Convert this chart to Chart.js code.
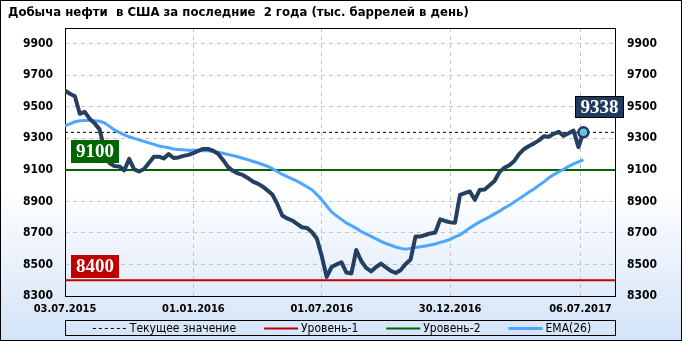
<!DOCTYPE html>
<html><head><meta charset="utf-8">
<script src="https://cdn.jsdelivr.net/npm/chart.js@4/dist/chart.umd.min.js"></script>
<style>html,body{margin:0;padding:0;background:#fff;}canvas{display:block}</style>
</head><body>
<canvas id="c" width="682" height="341"></canvas>
<script>
const chartTitle = 'Добыча нефти  в США за последние  2 года (тыс. баррелей в день)';
const xTickPos = [0, 26, 52, 78, 104.4];
const xTickLabels = ['03.07.2015', '01.01.2016', '01.07.2016', '30.12.2016', '06.07.2017'];
const xMax = 111.4;
const yTicks = [8300, 8500, 8700, 8900, 9100, 9300, 9500, 9700, 9900];
const production = [
  9603, 9583, 9567, 9456, 9468, 9424, 9395, 9357, 9227, 9144,
  9125, 9122, 9097, 9170, 9103, 9090, 9106, 9144, 9183, 9184,
  9173, 9200, 9175, 9179, 9189, 9195, 9206, 9221, 9233, 9233,
  9221, 9202, 9163, 9119, 9094, 9078, 9068, 9049, 9027, 9013,
  8995, 8970, 8944, 8884, 8811, 8792, 8779, 8757, 8736, 8732,
  8706, 8665, 8554, 8421, 8484, 8500, 8513, 8449, 8443, 8592,
  8522, 8478, 8456, 8484, 8506, 8481, 8459, 8446, 8465, 8503,
  8532, 8678, 8678, 8687, 8697, 8703, 8786, 8776, 8767, 8765,
  8941, 8952, 8963, 8910, 8973, 8976, 9002, 9030, 9087, 9113,
  9129, 9157, 9202, 9233, 9252, 9268, 9287, 9313, 9310, 9329,
  9341, 9316, 9332, 9349, 9244, 9338
];
const ema26 = [
  9379, 9392, 9405, 9411, 9413, 9414, 9411, 9408, 9398, 9376,
  9354, 9338, 9322, 9310, 9300, 9290, 9281, 9271, 9262, 9252,
  9246, 9240, 9233, 9230, 9227, 9225, 9224, 9224, 9222, 9221,
  9217, 9212, 9206, 9198, 9191, 9183, 9174, 9165, 9155, 9145,
  9134, 9123, 9108, 9090, 9071, 9057, 9043, 9029, 9011, 8993,
  8974, 8944, 8910, 8871, 8833, 8808, 8786, 8763, 8746, 8729,
  8709, 8694, 8678, 8662, 8646, 8633, 8622, 8611, 8602, 8597,
  8602, 8608, 8612, 8617, 8624, 8630, 8640, 8649, 8659, 8675,
  8687, 8709, 8732, 8751, 8770, 8786, 8802, 8821, 8838, 8859,
  8876, 8897, 8917, 8938, 8959, 8979, 9002, 9024, 9050, 9070,
  9087, 9104, 9122, 9138, 9151, 9163
];
const weeks = production.map((_, i) => i);
const currentValue = 9338;
const level1 = 8400;
const level2 = 9100;
const legendLabels = ['Текущее значение', 'Уровень-1', 'Уровень-2', 'EMA(26)'];

const FONT_C = '"DejaVu Sans Condensed", "DejaVu Sans", sans-serif';

const bgPlugin = {
  id: 'bg',
  beforeDraw(chart) {
    const { ctx, width, height } = chart;
    const g = ctx.createLinearGradient(0, 0, 0, height);
    g.addColorStop(0, '#ffffff');
    g.addColorStop(0.55, '#ffffff');
    g.addColorStop(1, '#d3e3f7');
    ctx.save();
    ctx.fillStyle = g;
    ctx.fillRect(0, 0, width, height);
    ctx.fillStyle = '#000';
    ctx.font = 'bold 13px ' + FONT_C;
    ctx.textBaseline = 'middle';
    ctx.textAlign = 'left';
    ctx.fillText(chartTitle, 8, 13);
    ctx.restore();
  },
  beforeDatasetsDraw(chart) {
    const { ctx, chartArea: a } = chart;
    ctx.save();
    ctx.strokeStyle = '#000';
    ctx.lineWidth = 1;
    ctx.strokeRect(Math.round(a.left) + 0.5, Math.round(a.top) + 0.5, Math.round(a.right - a.left), Math.round(a.bottom - a.top));
    ctx.restore();
  },
  afterDatasetsDraw(chart) {
    const { ctx, chartArea: a, scales } = chart;
    const ys = scales.y, xs = scales.x;
    const box = (text, left, top, w, h, fill, stroke) => {
      ctx.save();
      ctx.fillStyle = fill;
      ctx.fillRect(left, top, w, h);
      if (stroke) { ctx.strokeStyle = stroke; ctx.lineWidth = 1; ctx.strokeRect(left + 0.5, top + 0.5, w - 1, h - 1); }
      ctx.fillStyle = '#fff';
      ctx.font = 'bold 19px "Liberation Serif", serif';
      ctx.textAlign = 'center';
      ctx.textBaseline = 'middle';
      ctx.fillText(text, left + w / 2, top + h / 2 + 1);
      ctx.restore();
    };
    const lastX = xs.getPixelForValue(weeks[weeks.length - 1]);
    const curY = ys.getPixelForValue(currentValue);
    box(String(currentValue), Math.round(lastX - 8), Math.round(curY - 36), 49, 22, '#1f3a5f', '#000');
    box(String(level2), Math.round(a.left + 6), Math.round(ys.getPixelForValue(level2) - 30), 48, 23, '#006400');
    box(String(level1), Math.round(a.left + 6), Math.round(ys.getPixelForValue(level1) - 25), 48, 23, '#c00000');

    // legend
    const legendDs = legendLabels.map(l => chart.data.datasets.find(d => d.label === l));
    ctx.save();
    ctx.font = '12px ' + FONT_C;
    const lineLen = 34, gapTxt = 3, gapItem = 28;
    const widths = legendLabels.map(t => ctx.measureText(t).width);
    const total = widths.reduce((s, w) => s + lineLen + gapTxt + w, 0) + gapItem * (legendLabels.length - 1);
    const boxL = Math.round(a.left), boxR = Math.round(a.right);
    const cy = 328;
    ctx.strokeStyle = '#000';
    ctx.lineWidth = 1;
    ctx.strokeRect(boxL + 0.5, 320.5, boxR - boxL, 15);
    let x = (boxL + boxR) / 2 - total / 2 + 2;
    legendLabels.forEach((t, i) => {
      const d = legendDs[i];
      ctx.save();
      ctx.strokeStyle = d.borderColor;
      ctx.lineWidth = d.label === 'Текущее значение' ? 1 : d.borderWidth;
      ctx.setLineDash(d.borderDash || []);
      ctx.beginPath();
      ctx.moveTo(x, cy + 0.5);
      ctx.lineTo(x + lineLen, cy + 0.5);
      ctx.stroke();
      ctx.restore();
      ctx.fillStyle = '#000';
      ctx.textBaseline = 'middle';
      ctx.textAlign = 'left';
      ctx.fillText(t, x + lineLen + gapTxt, cy + 1);
      x += lineLen + gapTxt + widths[i] + gapItem;
    });
    ctx.restore();
  },
  afterDraw(chart) {
    const { ctx, width, height } = chart;
    ctx.save();
    ctx.strokeStyle = '#000';
    ctx.lineWidth = 1;
    ctx.strokeRect(0.5, 0.5, width - 1, height - 1);
    ctx.restore();
  }
};

const flat = v => [{ x: 0, y: v }, { x: xMax, y: v }];
const yLabel = v => String(v);

new Chart(document.getElementById('c'), {
  type: 'line',
  data: {
    labels: weeks,
    datasets: [
      { label: 'Добыча', data: production, borderColor: '#243f60', borderWidth: 4, tension: 0,
        borderJoinStyle: 'round', borderCapStyle: 'round',
        pointRadius: c => c.dataIndex === production.length - 1 ? 5 : 0,
        pointBackgroundColor: '#6cc0e0', pointBorderColor: '#1f3a5f', pointBorderWidth: 2.5 },
      { label: 'EMA(26)', data: ema26, borderColor: '#4da6ff', borderWidth: 3, tension: 0, pointRadius: 0 },
      { label: 'Текущее значение', data: flat(currentValue), borderColor: '#000', borderWidth: 1, borderDash: [3, 3], pointRadius: 0 },
      { label: 'Уровень-1', data: flat(level1), borderColor: '#c00000', borderWidth: 2, pointRadius: 0 },
      { label: 'Уровень-2', data: flat(level2), borderColor: '#006400', borderWidth: 2, pointRadius: 0 }
    ]
  },
  options: {
    responsive: false,
    animation: false,
    events: [],
    devicePixelRatio: 1,
    layout: { padding: { top: 28, left: 0, right: 0, bottom: 0 } },
    plugins: { legend: { display: false }, title: { display: false }, tooltip: { enabled: false } },
    scales: {
      x: {
        type: 'linear', min: 0, max: xMax,
        afterBuildTicks: s => { s.ticks = xTickPos.map(v => ({ value: v })); },
        afterFit: s => { s.height = 45; },
        ticks: { autoSkip: false, maxRotation: 0, minRotation: 0, padding: 7, color: '#000',
          font: { family: FONT_C, size: 11, weight: 'bold' },
          callback: (v, i) => xTickLabels[i] },
        grid: { color: '#c4c4c4', lineWidth: 1, drawTicks: false },
        border: { display: false, dash: [4, 4] }
      },
      y: {
        position: 'left', min: 8300, max: 10000,
        afterBuildTicks: s => { s.ticks = yTicks.map(v => ({ value: v })); },
        afterFit: s => { s.width = 65; },
        ticks: { padding: 12, color: '#000', font: { family: FONT_C, size: 12, weight: 'bold' }, callback: yLabel },
        grid: { color: '#c4c4c4', lineWidth: 1, drawTicks: false },
        border: { display: false, dash: [4, 4] }
      },
      y2: {
        position: 'right', min: 8300, max: 10000,
        afterBuildTicks: s => { s.ticks = yTicks.map(v => ({ value: v })); },
        afterFit: s => { s.width = 67; },
        ticks: { padding: 12, color: '#000', font: { family: FONT_C, size: 12, weight: 'bold' }, callback: yLabel },
        grid: { display: false, drawTicks: false },
        border: { display: false }
      }
    }
  },
  plugins: [bgPlugin]
});
</script>
</body></html>
